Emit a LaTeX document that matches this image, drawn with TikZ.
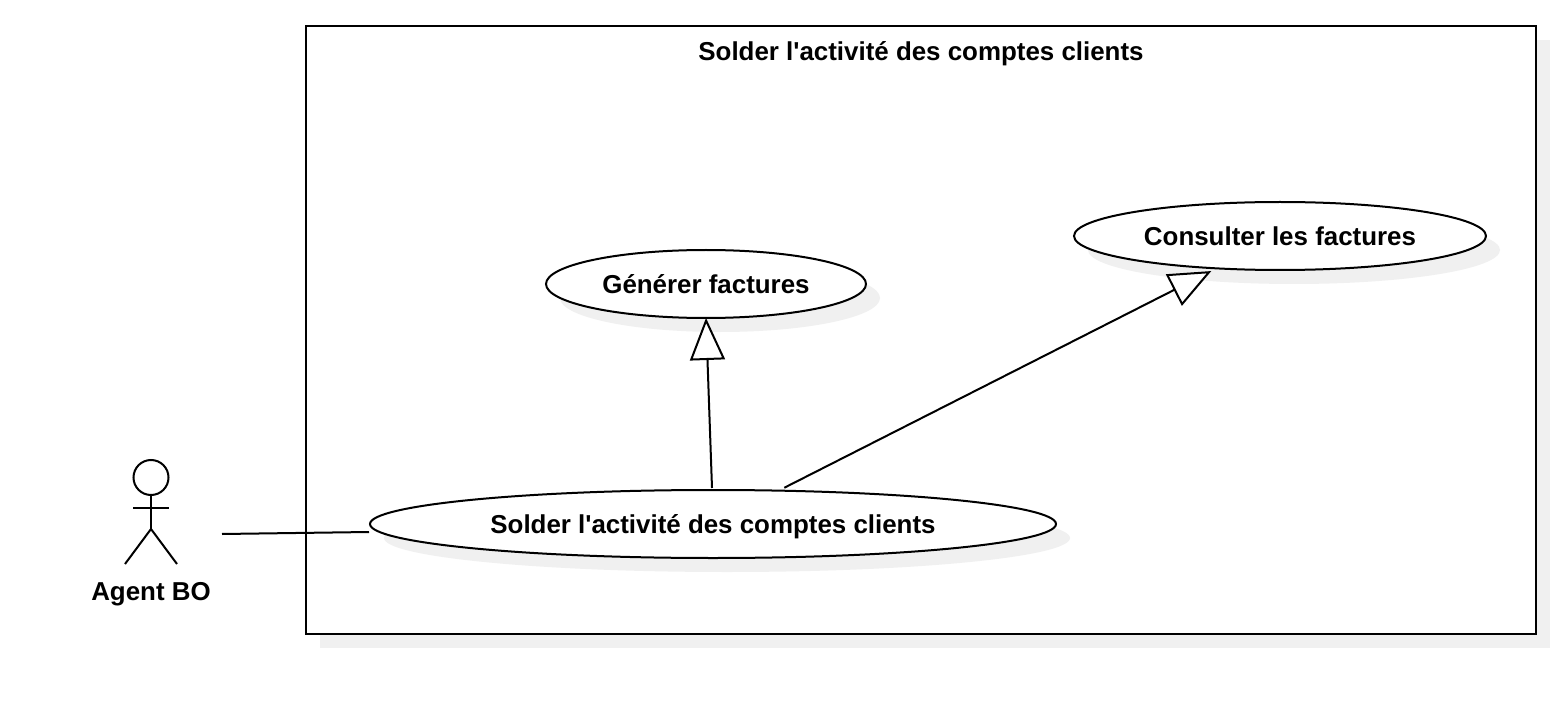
\documentclass[tikz,border=0pt]{standalone}
\usepackage{fontspec}
\setmainfont[Ligatures=TeXOff]{Liberation Sans}
\usetikzlibrary{arrows.meta,shapes.geometric}
\definecolor{shadowgrey}{HTML}{F0F0F0}
\tikzset{
  lbl/.style={font=\fontsize{25.9}{30}\selectfont\bfseries,inner sep=0pt,anchor=base},
  usecase/.style={ellipse,draw=black,fill=white,line width=2pt,minimum width=#1,minimum height=68pt,inner sep=0pt,outer sep=0pt},
  ushadow/.style={ellipse,fill=shadowgrey,minimum width=#1,minimum height=68pt,inner sep=0pt,outer sep=0pt},
  stick/.style={line width=2pt,draw=black},
  assoc/.style={line width=2pt,draw=black},
  gener/.style={line width=2pt,draw=black,-{Triangle[open,fill=white,length=42pt,width=35pt,line width=2pt]}}
}
\begin{document}
\begin{tikzpicture}[x=1pt,y=-1pt]
\useasboundingbox (0,0) rectangle (1554,708);
% system boundary
\fill[shadowgrey] (320,40) rectangle (1550,648);
\node[draw=black,fill=white,line width=2pt,minimum width=1230pt,minimum height=608pt,inner sep=0pt,outer sep=0pt] (system) at (921,330) {};
\node[lbl] (systitle) at (921,60.5) {Solder l'activité des comptes clients};
% shadows
\node[ushadow=686pt] (s1) at (727,538) {};
\node[ushadow=320pt] (s2) at (720,298) {};
\node[ushadow=412pt] (s3) at (1294,250) {};
% use cases
\node[usecase=686pt] (uc1) at (713,524) {};
\node[usecase=320pt] (uc2) at (706,284) {};
\node[usecase=412pt] (uc3) at (1280,236) {};
\node[lbl] at (713,533) {Solder l'activité des comptes clients};
\node[lbl] at (706,293.5) {Générer factures};
\node[lbl] at (1280,245.5) {Consulter les factures};
% actor
\node[circle,draw=black,line width=2pt,minimum size=35pt,inner sep=0pt,outer sep=0pt] (head) at (151,477.5) {};
\coordinate (hip) at (151,529);
\coordinate (armL) at (133,507.5);
\coordinate (armR) at (169,507.5);
\coordinate (footL) at (125,564);
\coordinate (footR) at (177,564);
\coordinate (actorEnd) at (222,534);
\draw[stick] (head.south) -- (hip);
\draw[stick] (armL) -- (armR);
\draw[stick] (footL) -- (hip) -- (footR);
\node[lbl] (actorlabel) at (151,600) {Agent BO};
% connectors
\path (uc1.west) ++(-1,8) coordinate (a1);
\path (uc1.north) ++(-1,-2) coordinate (g1);
\path (uc1.25) ++(0,-3) coordinate (g2);
\path (uc3.205) ++(0,3) coordinate (g3);
\draw[assoc] (actorEnd) -- (a1);
\draw[gener] (g1) -- (uc2.south);
\draw[gener] (g2) -- (g3);
\end{tikzpicture}
\end{document}
